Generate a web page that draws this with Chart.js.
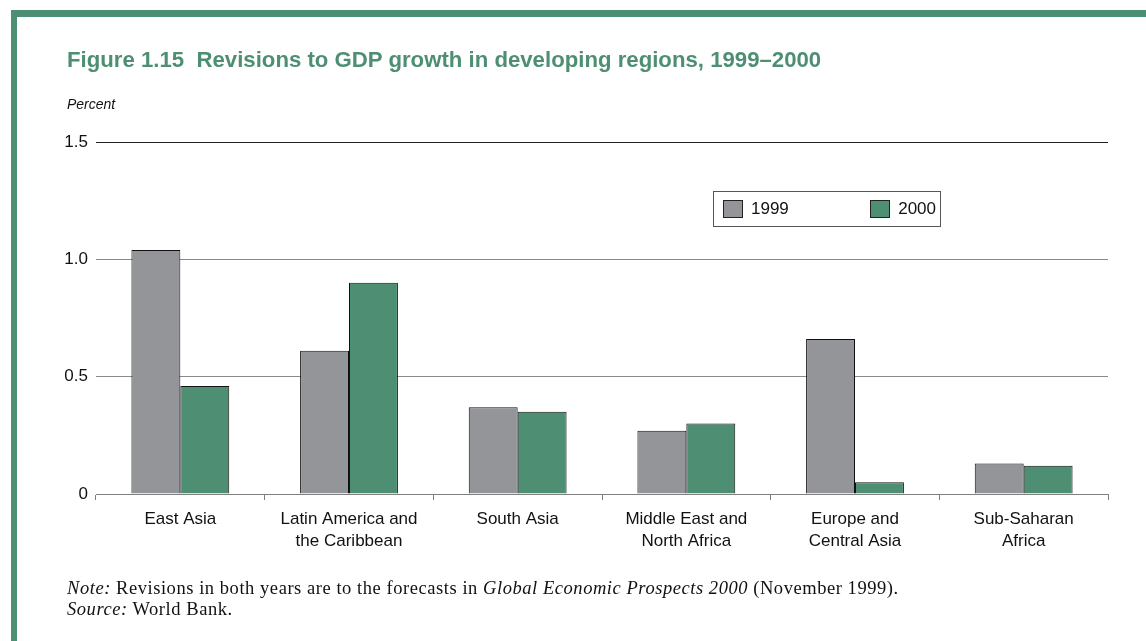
<!DOCTYPE html>
<html>
<head>
<meta charset="utf-8">
<script src="https://cdn.jsdelivr.net/npm/chart.js@4"></script>
<style>
  html, body { margin: 0; padding: 0; background: #fff; }
  body { width: 1146px; height: 641px; position: relative; overflow: hidden; font-family: "Liberation Sans", Arial, sans-serif; }
  #frame { position: absolute; left: 11px; top: 10px; right: 0; bottom: 0; border-top: 7px solid #4e8f73; border-left: 6px solid #4e8f73; }
  #title { position: absolute; left: 67px; top: 47px; font-size: 22.2px; font-weight: bold; color: #4e8f73; white-space: pre; }
  #unit { position: absolute; left: 67px; top: 96px; font-size: 14px; font-style: italic; color: #111; }
  #chart { position: absolute; left: 0; top: 0; }
  #legend { position: absolute; left: 713px; top: 191px; width: 228px; height: 36px; box-sizing: border-box; border: 1px solid #555; display: flex; justify-content: space-between; align-items: center; padding: 0 4px 0 9px; font-size: 17px; color: #111; }
  #legend .item { display: flex; align-items: center; }
  #legend .sw { width: 18px; height: 16px; border: 1px solid #222; margin-right: 8px; }
  #notes { position: absolute; left: 67px; top: 578px; font-family: "Liberation Serif", "Times New Roman", serif; font-size: 18.5px; letter-spacing: 0.55px; line-height: 21px; color: #111; white-space: nowrap; }
</style>
</head>
<body>
<div id="frame"></div>
<canvas id="chart" width="1146" height="641"></canvas>
<div id="title">Figure 1.15  Revisions to GDP growth in developing regions, 1999–2000</div>
<div id="unit">Percent</div>
<div id="legend"></div>
<div id="notes"><i>Note:</i> Revisions in both years are to the forecasts in <i>Global Economic Prospects 2000</i> (November 1999).<br><i>Source:</i> World Bank.</div>
<script>
const regions = [
  ['East Asia'],
  ['Latin America and', 'the Caribbean'],
  ['South Asia'],
  ['Middle East and', 'North Africa'],
  ['Europe and', 'Central Asia'],
  ['Sub-Saharan', 'Africa']
];
const rev1999 = [1.04, 0.61, 0.37, 0.27, 0.66, 0.13];
const rev2000 = [0.46, 0.90, 0.35, 0.30, 0.05, 0.12];
const yTicks = [0, 0.5, 1.0, 1.5];

const gray = '#939598';
const green = '#4e8f73';
const labelFont = { family: 'Liberation Sans, Arial', size: 17, lineHeight: 1.25 };

const chart = new Chart(document.getElementById('chart'), {
  type: 'bar',
  data: {
    labels: regions,
    datasets: [
      { label: '1999', data: rev1999, backgroundColor: gray, borderColor: '#111', borderWidth: 1 },
      { label: '2000', data: rev2000, backgroundColor: green, borderColor: '#111', borderWidth: 1 }
    ]
  },
  options: {
    responsive: false,
    animation: false,
    layout: { padding: { left: 0, right: 38, top: 142, bottom: 87 } },
    datasets: { bar: { categoryPercentage: 0.58, barPercentage: 1.0 } },
    plugins: { legend: { display: false }, tooltip: { enabled: false } },
    scales: {
      x: {
        afterFit: s => { s.height = 60; },
        grid: { offset: true, drawOnChartArea: false, drawTicks: true, tickLength: 6, color: '#808080' },
        border: { display: true, color: '#808080', width: 1 },
        ticks: { color: '#111', padding: 9, font: labelFont, maxRotation: 0, autoSkip: false }
      },
      y: {
        min: 0,
        max: 1.5,
        afterFit: s => { s.width = 96; },
        afterBuildTicks: s => { s.ticks = yTicks.map(v => ({ value: v })); },
        grid: {
          drawTicks: false,
          color: c => (c.tick && c.tick.value === 1.5) ? '#222' : '#8a8a8a',
          lineWidth: 1
        },
        border: { display: false },
        ticks: {
          color: '#111',
          padding: 8,
          font: { family: 'Liberation Sans, Arial', size: 17 },
          callback: v => v === 0 ? '0' : v.toFixed(1)
        }
      }
    }
  }
});

// legend built from the datasets
const legendEl = document.getElementById('legend');
chart.data.datasets.forEach(ds => {
  const item = document.createElement('div');
  item.className = 'item';
  const sw = document.createElement('span');
  sw.className = 'sw';
  sw.style.background = ds.backgroundColor;
  item.appendChild(sw);
  item.appendChild(document.createTextNode(ds.label));
  legendEl.appendChild(item);
});
</script>
</body>
</html>
